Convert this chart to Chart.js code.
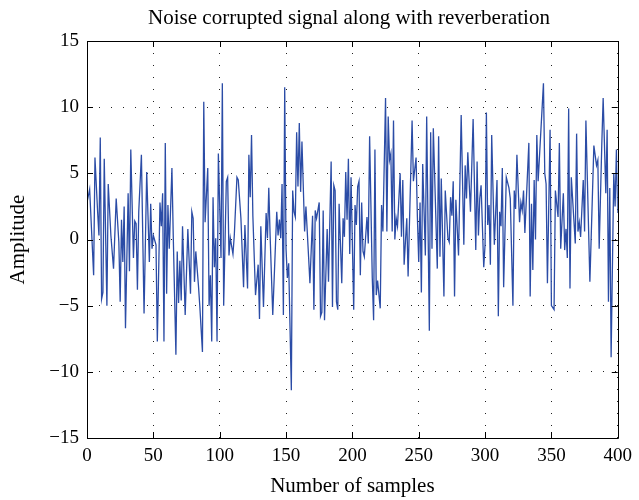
<!DOCTYPE html>
<html>
<head>
<meta charset="utf-8">
<script src="https://cdn.jsdelivr.net/npm/chart.js@4/dist/chart.umd.min.js"></script>
<style>
  html, body { margin: 0; padding: 0; background: #fff; }
  #wrap { width: 639px; height: 500px; position: relative; }
</style>
</head>
<body>
<div id="wrap"><canvas id="c" width="639" height="500"></canvas></div>
<script>
// Signal samples: index along the record and measured amplitude
const sampleIndex = [
  0,2,5,6,8,9,10,11,12,13,15,16,18,20,22,24,25,26,27,28,29,31,32,33,35,36,37,38,39,41,
  43,45,47,48,49,50,52,53,55,56,57,58,59,60,61,62,64,65,67,68,69,70,71,72,74,76,78,79,80,81,
  82,84,85,87,88,89,91,92,93,94,95,96,97,98,99,101,102,103,105,106,107,108,110,111,113,114,116,118,119,121,
  122,123,124,125,127,129,130,131,133,135,136,137,138,140,143,144,145,146,147,148,149,150,151,152,154,155,156,157,158,159,
  160,161,162,164,165,167,168,170,171,172,173,175,176,177,178,179,181,182,184,185,186,187,188,189,190,192,193,194,195,196,
  197,198,199,201,202,203,204,205,206,207,208,209,211,212,213,215,216,217,218,219,221,222,223,225,226,227,228,229,230,231,
  232,233,234,236,237,238,239,241,242,245,246,248,249,250,251,252,253,255,256,258,259,260,261,264,265,266,267,269,270,272,
  273,274,275,276,277,278,280,282,284,285,286,287,289,291,293,294,295,296,297,299,300,301,302,303,304,305,307,309,310,311,
  312,313,314,316,318,319,321,322,323,324,326,327,328,329,330,333,334,335,336,337,338,339,340,344,345,346,347,349,350,352,
  353,355,356,357,359,360,361,362,363,364,365,368,369,370,371,372,374,375,376,379,382,384,385,386,388,389,391,392,393,394,
  395,397,398,399,400
];
const amplitude = [
  2.8,3.8,-2.7,6.2,2.1,0.3,7.7,-4.5,-4.0,6.1,-5.0,4.2,0.3,-2.2,3.1,-0.2,-4.7,1.5,-1.7,2.5,-6.7,3.5,-2.4,6.8,-1.4,1.4,1.2,-3.8,2.1,6.4,
  -5.6,5.1,-1.7,2.7,-0.7,0.3,-0.4,-7.7,2.8,1.0,3.5,-7.7,7.3,-4.1,2.6,-0.7,5.4,0.3,-8.7,-0.9,-4.8,-1.6,-4.6,1.0,-5.7,0.8,-4.1,2.1,1.6,-3.2,
  -0.9,-3.5,-5.0,-8.5,10.4,1.3,5.4,-5.0,-2.7,-7.7,3.2,-2.1,0.1,-7.7,6.5,-1.4,11.8,-5.0,4.4,4.7,-1.2,0.1,-1.1,0.3,4.7,4.5,1.6,-3.6,1.1,-3.7,
  6.4,3.2,7.9,1.8,-4.2,-1.9,-6.0,1.0,-5.1,2.0,0.1,3.9,0.3,-5.7,2.1,0.3,1.5,0.1,4.2,-5.7,11.5,-0.7,-2.9,-1.8,-11.4,3.7,2.1,1.7,8.1,4.0,
  8.8,3.6,7.4,0.6,2.5,-1.3,-3.3,1.8,-5.3,2.2,1.6,2.8,-5.8,-5.5,2.2,-6.1,0.8,-3.2,5.9,-5.1,4.1,3.7,-4.7,-5.3,2.7,-3.3,1.6,0.2,5.1,1.5,
  6.1,-1.1,4.7,-5.3,2.6,1.1,4.0,4.4,-2.7,2.8,-0.9,-1.3,1.7,-0.3,7.8,-2.9,-6.1,6.8,-4.2,-3.1,-5.2,2.6,0.6,10.7,0.6,9.3,6.0,6.5,0.6,9.0,
  0.0,1.6,1.0,5.0,0.2,4.5,-1.9,1.6,-2.8,9.0,4.4,6.2,1.7,-1.7,2.8,-4.0,5.7,-1.2,9.3,-6.9,8.1,-0.7,8.4,-2.2,7.8,-1.3,4.6,-4.3,3.7,0.1,
  -0.2,3.2,1.8,4.4,-4.3,3.0,-1.2,9.4,-0.4,5.6,3.1,6.6,2.1,9.1,-0.8,5.9,0.3,3.1,4.1,-2.1,-0.4,9.6,1.1,2.6,-1.9,7.9,-0.4,4.5,-5.8,2.1,
  1.0,5.4,-3.6,4.7,3.9,3.1,-5.0,3.7,2.3,6.4,1.3,2.8,2.2,3.7,0.5,7.3,-4.3,2.7,-2.3,4.5,0.0,7.9,4.4,11.8,5.0,4.2,-3.3,8.3,-5.0,-5.3,
  3.7,1.7,7.3,-0.7,3.5,-0.8,0.8,-1.4,9.9,-3.7,4.7,-0.3,8.0,0.6,1.3,0.2,4.5,0.6,9.0,-3.2,7.1,5.6,6.0,-0.7,7.3,10.7,3.5,8.3,-4.7,3.9,
  -8.9,5.0,2.5,6.8,2.0
];

// Axis tick values
const xTicks = [0, 50, 100, 150, 200, 250, 300, 350, 400];
const yTicks = [-15, -10, -5, 0, 5, 10, 15];

const points = sampleIndex.map((x, i) => ({ x: x, y: amplitude[i] }));

const SERIF = '"Liberation Serif", "Times New Roman", serif';

// Solid box around the plot area with inward tick marks on all four sides,
// plus the centred chart title
const framePlugin = {
  id: 'frame',
  afterDraw(chart) {
    const { ctx, chartArea: a, scales } = chart;
    const tl = 6;
    ctx.save();
    ctx.strokeStyle = '#000';
    ctx.lineWidth = 1;
    ctx.beginPath();
    ctx.rect(Math.round(a.left) + 0.5, Math.round(a.top) + 0.5,
             Math.round(a.right - a.left), Math.round(a.bottom - a.top));
    for (const v of xTicks) {
      const px = Math.round(scales.x.getPixelForValue(v)) + 0.5;
      ctx.moveTo(px, a.bottom); ctx.lineTo(px, a.bottom - tl);
      ctx.moveTo(px, a.top); ctx.lineTo(px, a.top + tl);
    }
    for (const v of yTicks) {
      const py = Math.round(scales.y.getPixelForValue(v)) + 0.5;
      ctx.moveTo(a.left, py); ctx.lineTo(a.left + tl, py);
      ctx.moveTo(a.right, py); ctx.lineTo(a.right - tl, py);
    }
    ctx.stroke();

    ctx.fillStyle = '#000';
    ctx.font = '21px ' + SERIF;
    ctx.textAlign = 'center';
    ctx.textBaseline = 'middle';
    ctx.fillText('Noise corrupted signal along with reverberation', 349, 18);
    ctx.restore();
  }
};

const fmt = v => String(v).replace('-', '\u2212');

new Chart(document.getElementById('c'), {
  type: 'line',
  data: {
    datasets: [{
      data: points,
      borderColor: '#2b4ca6',
      borderWidth: 1.3,
      pointRadius: 0,
      tension: 0,
      fill: false
    }]
  },
  options: {
    responsive: false,
    animation: false,
    events: [],
    layout: { padding: { top: 41, right: 15, left: 0, bottom: 0 } },
    plugins: { legend: { display: false }, tooltip: { enabled: false }, title: { display: false } },
    scales: {
      x: {
        type: 'linear',
        min: 0, max: 400,
        afterFit(scale) { scale.height = 62; },
        afterBuildTicks(scale) { scale.ticks = xTicks.map(v => ({ value: v })); },
        ticks: {
          color: '#000',
          font: { family: SERIF, size: 19 },
          padding: 7,
          maxRotation: 0,
          autoSkip: false,
          callback: fmt
        },
        grid: { color: '#222', lineWidth: 1, drawTicks: false },
        border: { display: false, dash: [1, 11] },
        title: {
          display: true,
          text: 'Number of samples',
          color: '#000',
          font: { family: SERIF, size: 21 },
          padding: { top: 0, bottom: 1 }
        }
      },
      y: {
        type: 'linear',
        min: -15, max: 15,
        afterFit(scale) { scale.width = 87; },
        afterBuildTicks(scale) { scale.ticks = yTicks.map(v => ({ value: v })); },
        ticks: {
          color: '#000',
          font: { family: SERIF, size: 19 },
          padding: 8,
          autoSkip: false,
          callback: fmt
        },
        grid: { color: '#222', lineWidth: 1, drawTicks: false },
        border: { display: false, dash: [1, 11] },
        title: {
          display: true,
          text: 'Amplitude',
          color: '#000',
          font: { family: SERIF, size: 21 },
          padding: { top: 6, bottom: 0 }
        }
      }
    }
  },
  plugins: [framePlugin]
});
</script>
</body>
</html>
